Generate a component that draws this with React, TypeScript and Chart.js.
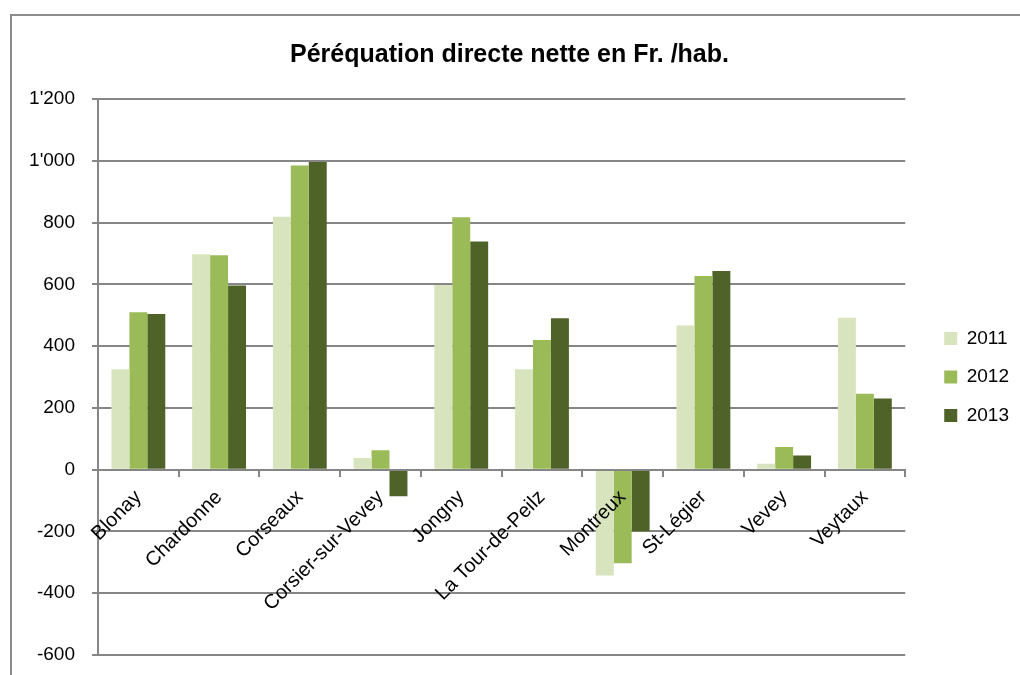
import React, { useEffect, useRef } from "react";
import { Chart, registerables } from "chart.js";

Chart.register(...registerables);

const communes = [
  "Blonay",
  "Chardonne",
  "Corseaux",
  "Corsier-sur-Vevey",
  "Jongny",
  "La Tour-de-Peilz",
  "Montreux",
  "St-Légier",
  "Vevey",
  "Veytaux",
];
const values2011 = [325, 697, 819, 38, 598, 325, -343, 467, 19, 492];
const values2012 = [510, 694, 985, 63, 817, 420, -303, 627, 73, 246];
const values2013 = [504, 596, 996, -86, 739, 490, -199, 643, 46, 230];
const seriesLabels = ["2011", "2012", "2013"];
const seriesColors = ["#d7e4bd", "#9bbb59", "#4f6228"];
const yMin = -600;
const yMax = 1200;
const yStep = 200;

const FONT = "'Liberation Sans', Arial, sans-serif";
const GRID = "#868686";

function fmt(v: number): string {
  const s = Math.abs(v).toString().replace(/\B(?=(\d{3})+(?!\d))/g, "'");
  return (v < 0 ? "-" : "") + s;
}

export default function App() {
  const ref = useRef<HTMLCanvasElement | null>(null);

  useEffect(() => {
    if (!ref.current) return;
    const series = [values2011, values2012, values2013];
    const chart = new Chart(ref.current, {
      type: "bar",
      data: {
        labels: communes,
        datasets: series.map((d, i) => ({
          label: seriesLabels[i],
          data: d,
          backgroundColor: seriesColors[i],
          borderWidth: 0,
          barPercentage: 1,
          categoryPercentage: 0.667,
        })),
      },
      options: {
        responsive: false,
        animation: false,
        devicePixelRatio: 1,
        layout: { padding: { top: 0, bottom: 20, left: 0, right: 1 } },
        plugins: {
          title: {
            display: true,
            text: "Péréquation directe nette en Fr. /hab.",
            color: "#000",
            font: { family: FONT, size: 25, weight: "bold" },
            padding: { top: 40, bottom: 29 },
          },
          legend: {
            position: "right",
            fullSize: false,
            labels: {
              color: "#000",
              font: { family: FONT, size: 19 },
              boxWidth: 13,
              boxHeight: 13,
              padding: 19.5,
            },
          },
          tooltip: { enabled: false },
        },
        scales: {
          x: {
            position: { y: 0 } as any,
            grid: {
              display: true,
              offset: true,
              drawOnChartArea: false,
              drawTicks: true,
              tickLength: 6,
              color: GRID,
              lineWidth: 2,
            },
            border: { display: true, color: GRID, width: 2, z: 1 },
            ticks: {
              z: 1,
              color: "#000",
              font: { family: FONT, size: 20 },
              autoSkip: false,
              minRotation: 45,
              maxRotation: 45,
              padding: 10,
            },
          },
          y: {
            min: yMin,
            max: yMax,
            grid: {
              color: GRID,
              lineWidth: 2,
              drawTicks: true,
              tickLength: 6,
            },
            border: { display: true, color: GRID, width: 2 },
            ticks: {
              stepSize: yStep,
              color: "#000",
              font: { family: FONT, size: 19 },
              padding: 17,
              callback: (v: any) => fmt(Number(v)),
            },
            afterFit: (s: any) => {
              s.width = 98;
              s.paddingTop = 0;
              s.paddingBottom = 0;
            },
          },
          ySpacer: {
            type: "linear",
            position: "right",
            display: true,
            grid: { display: false },
            ticks: { display: false },
            border: { display: false },
            afterFit: (s: any) => {
              s.width = 19.5;
            },
          },
        },
      },
    });
    return () => chart.destroy();
  }, []);

  return (
    <div style={{ position: "absolute", left: 0, top: 0, width: 1020, height: 675, overflow: "hidden", background: "#fff" }}>
      <div
        style={{
          position: "absolute",
          left: 10,
          top: 14,
          width: 1100,
          height: 800,
          border: "2px solid #8c8c8c",
          boxSizing: "border-box",
        }}
      />
      <canvas ref={ref} width={1020} height={675} style={{ position: "absolute", left: 0, top: 0 }} />
    </div>
  );
}
